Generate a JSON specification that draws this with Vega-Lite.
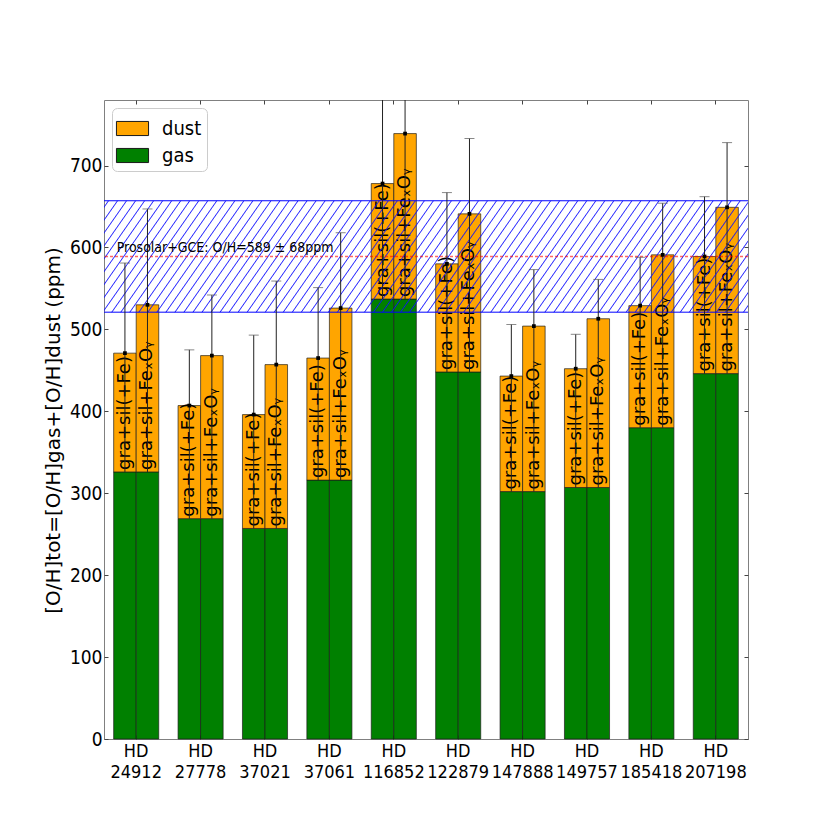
{
  "$schema": "https://vega.github.io/schema/vega-lite/v6.json",
  "width": 644,
  "height": 639,
  "autosize": {"type": "none"},
  "padding": {"left": 104, "top": 100, "right": 82, "bottom": 91},
  "background": "white",
  "config": {
    "view": {"stroke": "#808080", "strokeWidth": 1},
    "axis": {"domain": false, "grid": false, "tickColor": "#444", "labelColor": "black", "titleColor": "black"}
  },
  "datasets": {
    "bars": [
      {"star": "HD 24912", "m": "a", "label": "gra+sil(+Fe)", "gas": 326, "total": 471, "upper": 581},
      {"star": "HD 24912", "m": "b", "label": "gra+sil+FeₓOᵧ", "gas": 326, "total": 530, "upper": 647},
      {"star": "HD 27778", "m": "a", "label": "gra+sil(+Fe)", "gas": 269, "total": 407, "upper": 475},
      {"star": "HD 27778", "m": "b", "label": "gra+sil+FeₓOᵧ", "gas": 269, "total": 468, "upper": 542},
      {"star": "HD 37021", "m": "a", "label": "gra+sil(+Fe)", "gas": 257, "total": 396, "upper": 493},
      {"star": "HD 37021", "m": "b", "label": "gra+sil+FeₓOᵧ", "gas": 257, "total": 457, "upper": 559},
      {"star": "HD 37061", "m": "a", "label": "gra+sil(+Fe)", "gas": 316, "total": 465, "upper": 551},
      {"star": "HD 37061", "m": "b", "label": "gra+sil+FeₓOᵧ", "gas": 316, "total": 526, "upper": 618},
      {"star": "HD 116852", "m": "a", "label": "gra+sil(+Fe)", "gas": 537, "total": 678, "upper": 860},
      {"star": "HD 116852", "m": "b", "label": "gra+sil+FeₓOᵧ", "gas": 537, "total": 739, "upper": 920},
      {"star": "HD 122879", "m": "a", "label": "gra+sil(+Fe)", "gas": 448, "total": 580, "upper": 667},
      {"star": "HD 122879", "m": "b", "label": "gra+sil+FeₓOᵧ", "gas": 448, "total": 641, "upper": 733},
      {"star": "HD 147888", "m": "a", "label": "gra+sil(+Fe)", "gas": 302, "total": 443, "upper": 506},
      {"star": "HD 147888", "m": "b", "label": "gra+sil+FeₓOᵧ", "gas": 302, "total": 504, "upper": 573},
      {"star": "HD 149757", "m": "a", "label": "gra+sil(+Fe)", "gas": 307, "total": 452, "upper": 494},
      {"star": "HD 149757", "m": "b", "label": "gra+sil+FeₓOᵧ", "gas": 307, "total": 513, "upper": 561},
      {"star": "HD 185418", "m": "a", "label": "gra+sil(+Fe)", "gas": 380, "total": 529, "upper": 588},
      {"star": "HD 185418", "m": "b", "label": "gra+sil+FeₓOᵧ", "gas": 380, "total": 591, "upper": 654},
      {"star": "HD 207198", "m": "a", "label": "gra+sil(+Fe)", "gas": 446, "total": 589, "upper": 662},
      {"star": "HD 207198", "m": "b", "label": "gra+sil+FeₓOᵧ", "gas": 446, "total": 649, "upper": 728}
    ]
  },
  "layer": [
    {
      "data": {"name": "bars"},
      "mark": {"type": "bar", "stroke": "#1a1a1a", "strokeWidth": 0.8, "strokeOpacity": 0.85},
      "encoding": {
        "x": {
          "field": "star", "type": "nominal", "sort": null,
          "scale": {"domain": ["HD 24912", "HD 27778", "HD 37021", "HD 37061", "HD 116852", "HD 122879", "HD 147888", "HD 149757", "HD 185418", "HD 207198"], "paddingInner": 0.3, "paddingOuter": 0.15},
          "axis": {"orient": "bottom", "title": null, "labelAngle": 0, "labelExpr": "split(datum.label, ' ')", "labelFont": "DejaVu Sans Condensed", "labelFontSize": 18, "labelLineHeight": 21, "tickSize": -4, "labelPadding": 7, "labelBaseline": "top"}
        },
        "xOffset": {"field": "m", "type": "nominal", "sort": null, "scale": {"domain": ["a", "b"], "paddingInner": 0, "paddingOuter": 0}},
        "y": {
          "field": "gas", "type": "quantitative",
          "scale": {"domain": [0, 780], "nice": false, "zero": true},
          "axis": {"orient": "left", "values": [0, 100, 200, 300, 400, 500, 600, 700], "title": "[O/H]tot=[O/H]gas+[O/H]dust (ppm)", "titleFont": "DejaVu Sans", "titleFontSize": 20, "titleFontWeight": "normal", "titlePadding": 6, "titleY": 330, "labelFont": "DejaVu Sans Condensed", "labelFontSize": 19, "tickSize": -4, "labelPadding": 6}
        },
        "color": {
          "datum": "gas",
          "scale": {"domain": ["dust", "gas"], "range": ["#FFA500", "#008000"]},
          "legend": {"title": null, "orient": "top-left", "offset": 8, "symbolType": "M-1.07,-0.47H1.07V0.47H-1.07Z", "symbolSize": 900, "symbolStrokeColor": "#333", "symbolStrokeWidth": 1, "symbolOpacity": 1, "labelFont": "DejaVu Sans Condensed", "labelFontSize": 20, "labelOffset": 14, "rowPadding": 1, "padding": 5, "fillColor": "white", "strokeColor": "#cccccc", "cornerRadius": 5}
        }
      }
    },
    {
      "data": {"name": "bars"},
      "mark": {"type": "bar", "stroke": "#1a1a1a", "strokeWidth": 0.8, "strokeOpacity": 0.85},
      "encoding": {
        "x": {"field": "star", "type": "nominal", "sort": null, "scale": {"domain": ["HD 24912", "HD 27778", "HD 37021", "HD 37061", "HD 116852", "HD 122879", "HD 147888", "HD 149757", "HD 185418", "HD 207198"]}, "axis": null},
        "xOffset": {"field": "m", "type": "nominal", "sort": null, "scale": {"domain": ["a", "b"]}},
        "y": {"field": "gas", "type": "quantitative", "scale": {"domain": [0, 780], "nice": false}, "axis": null},
        "y2": {"field": "total"},
        "color": {"datum": "dust"}
      }
    },
    {
      "data": {"name": "bars"},
      "mark": {"type": "text", "angle": 270, "align": "left", "baseline": "middle", "dx": 2, "font": "DejaVu Sans", "fontSize": 18, "color": "black"},
      "encoding": {
        "x": {"field": "star", "type": "nominal", "sort": null, "scale": {"domain": ["HD 24912", "HD 27778", "HD 37021", "HD 37061", "HD 116852", "HD 122879", "HD 147888", "HD 149757", "HD 185418", "HD 207198"]}, "axis": null},
        "xOffset": {"field": "m", "type": "nominal", "sort": null, "scale": {"domain": ["a", "b"]}},
        "y": {"field": "gas", "type": "quantitative", "scale": {"domain": [0, 780], "nice": false}, "axis": null},
        "text": {"field": "label"}
      }
    },
    {
      "data": {"values": [{}]},
      "mark": {
        "type": "rect",
        "strokeWidth": 0,
        "fill": {
          "gradient": "linear", "x1": 0, "y1": 0, "x2": 1.1048, "y2": 0.1337,
          "stops": [
            {"offset":0.00475,"color":"rgba(0,0,255,0)"},{"offset":0.00625,"color":"rgba(20,20,255,0.9)"},{"offset":0.00775,"color":"rgba(0,0,255,0)"},
            {"offset":0.01725,"color":"rgba(0,0,255,0)"},{"offset":0.01875,"color":"rgba(20,20,255,0.9)"},{"offset":0.02025,"color":"rgba(0,0,255,0)"},
            {"offset":0.02975,"color":"rgba(0,0,255,0)"},{"offset":0.03125,"color":"rgba(20,20,255,0.9)"},{"offset":0.03275,"color":"rgba(0,0,255,0)"},
            {"offset":0.04225,"color":"rgba(0,0,255,0)"},{"offset":0.04375,"color":"rgba(20,20,255,0.9)"},{"offset":0.04525,"color":"rgba(0,0,255,0)"},
            {"offset":0.05475,"color":"rgba(0,0,255,0)"},{"offset":0.05625,"color":"rgba(20,20,255,0.9)"},{"offset":0.05775,"color":"rgba(0,0,255,0)"},
            {"offset":0.06725,"color":"rgba(0,0,255,0)"},{"offset":0.06875,"color":"rgba(20,20,255,0.9)"},{"offset":0.07025,"color":"rgba(0,0,255,0)"},
            {"offset":0.07975,"color":"rgba(0,0,255,0)"},{"offset":0.08125,"color":"rgba(20,20,255,0.9)"},{"offset":0.08275,"color":"rgba(0,0,255,0)"},
            {"offset":0.09225,"color":"rgba(0,0,255,0)"},{"offset":0.09375,"color":"rgba(20,20,255,0.9)"},{"offset":0.09525,"color":"rgba(0,0,255,0)"},
            {"offset":0.10475,"color":"rgba(0,0,255,0)"},{"offset":0.10625,"color":"rgba(20,20,255,0.9)"},{"offset":0.10775,"color":"rgba(0,0,255,0)"},
            {"offset":0.11725,"color":"rgba(0,0,255,0)"},{"offset":0.11875,"color":"rgba(20,20,255,0.9)"},{"offset":0.12025,"color":"rgba(0,0,255,0)"},
            {"offset":0.12975,"color":"rgba(0,0,255,0)"},{"offset":0.13125,"color":"rgba(20,20,255,0.9)"},{"offset":0.13275,"color":"rgba(0,0,255,0)"},
            {"offset":0.14225,"color":"rgba(0,0,255,0)"},{"offset":0.14375,"color":"rgba(20,20,255,0.9)"},{"offset":0.14525,"color":"rgba(0,0,255,0)"},
            {"offset":0.15475,"color":"rgba(0,0,255,0)"},{"offset":0.15625,"color":"rgba(20,20,255,0.9)"},{"offset":0.15775,"color":"rgba(0,0,255,0)"},
            {"offset":0.16725,"color":"rgba(0,0,255,0)"},{"offset":0.16875,"color":"rgba(20,20,255,0.9)"},{"offset":0.17025,"color":"rgba(0,0,255,0)"},
            {"offset":0.17975,"color":"rgba(0,0,255,0)"},{"offset":0.18125,"color":"rgba(20,20,255,0.9)"},{"offset":0.18275,"color":"rgba(0,0,255,0)"},
            {"offset":0.19225,"color":"rgba(0,0,255,0)"},{"offset":0.19375,"color":"rgba(20,20,255,0.9)"},{"offset":0.19525,"color":"rgba(0,0,255,0)"},
            {"offset":0.20475,"color":"rgba(0,0,255,0)"},{"offset":0.20625,"color":"rgba(20,20,255,0.9)"},{"offset":0.20775,"color":"rgba(0,0,255,0)"},
            {"offset":0.21725,"color":"rgba(0,0,255,0)"},{"offset":0.21875,"color":"rgba(20,20,255,0.9)"},{"offset":0.22025,"color":"rgba(0,0,255,0)"},
            {"offset":0.22975,"color":"rgba(0,0,255,0)"},{"offset":0.23125,"color":"rgba(20,20,255,0.9)"},{"offset":0.23275,"color":"rgba(0,0,255,0)"},
            {"offset":0.24225,"color":"rgba(0,0,255,0)"},{"offset":0.24375,"color":"rgba(20,20,255,0.9)"},{"offset":0.24525,"color":"rgba(0,0,255,0)"},
            {"offset":0.25475,"color":"rgba(0,0,255,0)"},{"offset":0.25625,"color":"rgba(20,20,255,0.9)"},{"offset":0.25775,"color":"rgba(0,0,255,0)"},
            {"offset":0.26725,"color":"rgba(0,0,255,0)"},{"offset":0.26875,"color":"rgba(20,20,255,0.9)"},{"offset":0.27025,"color":"rgba(0,0,255,0)"},
            {"offset":0.27975,"color":"rgba(0,0,255,0)"},{"offset":0.28125,"color":"rgba(20,20,255,0.9)"},{"offset":0.28275,"color":"rgba(0,0,255,0)"},
            {"offset":0.29225,"color":"rgba(0,0,255,0)"},{"offset":0.29375,"color":"rgba(20,20,255,0.9)"},{"offset":0.29525,"color":"rgba(0,0,255,0)"},
            {"offset":0.30475,"color":"rgba(0,0,255,0)"},{"offset":0.30625,"color":"rgba(20,20,255,0.9)"},{"offset":0.30775,"color":"rgba(0,0,255,0)"},
            {"offset":0.31725,"color":"rgba(0,0,255,0)"},{"offset":0.31875,"color":"rgba(20,20,255,0.9)"},{"offset":0.32025,"color":"rgba(0,0,255,0)"},
            {"offset":0.32975,"color":"rgba(0,0,255,0)"},{"offset":0.33125,"color":"rgba(20,20,255,0.9)"},{"offset":0.33275,"color":"rgba(0,0,255,0)"},
            {"offset":0.34225,"color":"rgba(0,0,255,0)"},{"offset":0.34375,"color":"rgba(20,20,255,0.9)"},{"offset":0.34525,"color":"rgba(0,0,255,0)"},
            {"offset":0.35475,"color":"rgba(0,0,255,0)"},{"offset":0.35625,"color":"rgba(20,20,255,0.9)"},{"offset":0.35775,"color":"rgba(0,0,255,0)"},
            {"offset":0.36725,"color":"rgba(0,0,255,0)"},{"offset":0.36875,"color":"rgba(20,20,255,0.9)"},{"offset":0.37025,"color":"rgba(0,0,255,0)"},
            {"offset":0.37975,"color":"rgba(0,0,255,0)"},{"offset":0.38125,"color":"rgba(20,20,255,0.9)"},{"offset":0.38275,"color":"rgba(0,0,255,0)"},
            {"offset":0.39225,"color":"rgba(0,0,255,0)"},{"offset":0.39375,"color":"rgba(20,20,255,0.9)"},{"offset":0.39525,"color":"rgba(0,0,255,0)"},
            {"offset":0.40475,"color":"rgba(0,0,255,0)"},{"offset":0.40625,"color":"rgba(20,20,255,0.9)"},{"offset":0.40775,"color":"rgba(0,0,255,0)"},
            {"offset":0.41725,"color":"rgba(0,0,255,0)"},{"offset":0.41875,"color":"rgba(20,20,255,0.9)"},{"offset":0.42025,"color":"rgba(0,0,255,0)"},
            {"offset":0.42975,"color":"rgba(0,0,255,0)"},{"offset":0.43125,"color":"rgba(20,20,255,0.9)"},{"offset":0.43275,"color":"rgba(0,0,255,0)"},
            {"offset":0.44225,"color":"rgba(0,0,255,0)"},{"offset":0.44375,"color":"rgba(20,20,255,0.9)"},{"offset":0.44525,"color":"rgba(0,0,255,0)"},
            {"offset":0.45475,"color":"rgba(0,0,255,0)"},{"offset":0.45625,"color":"rgba(20,20,255,0.9)"},{"offset":0.45775,"color":"rgba(0,0,255,0)"},
            {"offset":0.46725,"color":"rgba(0,0,255,0)"},{"offset":0.46875,"color":"rgba(20,20,255,0.9)"},{"offset":0.47025,"color":"rgba(0,0,255,0)"},
            {"offset":0.47975,"color":"rgba(0,0,255,0)"},{"offset":0.48125,"color":"rgba(20,20,255,0.9)"},{"offset":0.48275,"color":"rgba(0,0,255,0)"},
            {"offset":0.49225,"color":"rgba(0,0,255,0)"},{"offset":0.49375,"color":"rgba(20,20,255,0.9)"},{"offset":0.49525,"color":"rgba(0,0,255,0)"},
            {"offset":0.50475,"color":"rgba(0,0,255,0)"},{"offset":0.50625,"color":"rgba(20,20,255,0.9)"},{"offset":0.50775,"color":"rgba(0,0,255,0)"},
            {"offset":0.51725,"color":"rgba(0,0,255,0)"},{"offset":0.51875,"color":"rgba(20,20,255,0.9)"},{"offset":0.52025,"color":"rgba(0,0,255,0)"},
            {"offset":0.52975,"color":"rgba(0,0,255,0)"},{"offset":0.53125,"color":"rgba(20,20,255,0.9)"},{"offset":0.53275,"color":"rgba(0,0,255,0)"},
            {"offset":0.54225,"color":"rgba(0,0,255,0)"},{"offset":0.54375,"color":"rgba(20,20,255,0.9)"},{"offset":0.54525,"color":"rgba(0,0,255,0)"},
            {"offset":0.55475,"color":"rgba(0,0,255,0)"},{"offset":0.55625,"color":"rgba(20,20,255,0.9)"},{"offset":0.55775,"color":"rgba(0,0,255,0)"},
            {"offset":0.56725,"color":"rgba(0,0,255,0)"},{"offset":0.56875,"color":"rgba(20,20,255,0.9)"},{"offset":0.57025,"color":"rgba(0,0,255,0)"},
            {"offset":0.57975,"color":"rgba(0,0,255,0)"},{"offset":0.58125,"color":"rgba(20,20,255,0.9)"},{"offset":0.58275,"color":"rgba(0,0,255,0)"},
            {"offset":0.59225,"color":"rgba(0,0,255,0)"},{"offset":0.59375,"color":"rgba(20,20,255,0.9)"},{"offset":0.59525,"color":"rgba(0,0,255,0)"},
            {"offset":0.60475,"color":"rgba(0,0,255,0)"},{"offset":0.60625,"color":"rgba(20,20,255,0.9)"},{"offset":0.60775,"color":"rgba(0,0,255,0)"},
            {"offset":0.61725,"color":"rgba(0,0,255,0)"},{"offset":0.61875,"color":"rgba(20,20,255,0.9)"},{"offset":0.62025,"color":"rgba(0,0,255,0)"},
            {"offset":0.62975,"color":"rgba(0,0,255,0)"},{"offset":0.63125,"color":"rgba(20,20,255,0.9)"},{"offset":0.63275,"color":"rgba(0,0,255,0)"},
            {"offset":0.64225,"color":"rgba(0,0,255,0)"},{"offset":0.64375,"color":"rgba(20,20,255,0.9)"},{"offset":0.64525,"color":"rgba(0,0,255,0)"},
            {"offset":0.65475,"color":"rgba(0,0,255,0)"},{"offset":0.65625,"color":"rgba(20,20,255,0.9)"},{"offset":0.65775,"color":"rgba(0,0,255,0)"},
            {"offset":0.66725,"color":"rgba(0,0,255,0)"},{"offset":0.66875,"color":"rgba(20,20,255,0.9)"},{"offset":0.67025,"color":"rgba(0,0,255,0)"},
            {"offset":0.67975,"color":"rgba(0,0,255,0)"},{"offset":0.68125,"color":"rgba(20,20,255,0.9)"},{"offset":0.68275,"color":"rgba(0,0,255,0)"},
            {"offset":0.69225,"color":"rgba(0,0,255,0)"},{"offset":0.69375,"color":"rgba(20,20,255,0.9)"},{"offset":0.69525,"color":"rgba(0,0,255,0)"},
            {"offset":0.70475,"color":"rgba(0,0,255,0)"},{"offset":0.70625,"color":"rgba(20,20,255,0.9)"},{"offset":0.70775,"color":"rgba(0,0,255,0)"},
            {"offset":0.71725,"color":"rgba(0,0,255,0)"},{"offset":0.71875,"color":"rgba(20,20,255,0.9)"},{"offset":0.72025,"color":"rgba(0,0,255,0)"},
            {"offset":0.72975,"color":"rgba(0,0,255,0)"},{"offset":0.73125,"color":"rgba(20,20,255,0.9)"},{"offset":0.73275,"color":"rgba(0,0,255,0)"},
            {"offset":0.74225,"color":"rgba(0,0,255,0)"},{"offset":0.74375,"color":"rgba(20,20,255,0.9)"},{"offset":0.74525,"color":"rgba(0,0,255,0)"},
            {"offset":0.75475,"color":"rgba(0,0,255,0)"},{"offset":0.75625,"color":"rgba(20,20,255,0.9)"},{"offset":0.75775,"color":"rgba(0,0,255,0)"},
            {"offset":0.76725,"color":"rgba(0,0,255,0)"},{"offset":0.76875,"color":"rgba(20,20,255,0.9)"},{"offset":0.77025,"color":"rgba(0,0,255,0)"},
            {"offset":0.77975,"color":"rgba(0,0,255,0)"},{"offset":0.78125,"color":"rgba(20,20,255,0.9)"},{"offset":0.78275,"color":"rgba(0,0,255,0)"},
            {"offset":0.79225,"color":"rgba(0,0,255,0)"},{"offset":0.79375,"color":"rgba(20,20,255,0.9)"},{"offset":0.79525,"color":"rgba(0,0,255,0)"},
            {"offset":0.80475,"color":"rgba(0,0,255,0)"},{"offset":0.80625,"color":"rgba(20,20,255,0.9)"},{"offset":0.80775,"color":"rgba(0,0,255,0)"},
            {"offset":0.81725,"color":"rgba(0,0,255,0)"},{"offset":0.81875,"color":"rgba(20,20,255,0.9)"},{"offset":0.82025,"color":"rgba(0,0,255,0)"},
            {"offset":0.82975,"color":"rgba(0,0,255,0)"},{"offset":0.83125,"color":"rgba(20,20,255,0.9)"},{"offset":0.83275,"color":"rgba(0,0,255,0)"},
            {"offset":0.84225,"color":"rgba(0,0,255,0)"},{"offset":0.84375,"color":"rgba(20,20,255,0.9)"},{"offset":0.84525,"color":"rgba(0,0,255,0)"},
            {"offset":0.85475,"color":"rgba(0,0,255,0)"},{"offset":0.85625,"color":"rgba(20,20,255,0.9)"},{"offset":0.85775,"color":"rgba(0,0,255,0)"},
            {"offset":0.86725,"color":"rgba(0,0,255,0)"},{"offset":0.86875,"color":"rgba(20,20,255,0.9)"},{"offset":0.87025,"color":"rgba(0,0,255,0)"},
            {"offset":0.87975,"color":"rgba(0,0,255,0)"},{"offset":0.88125,"color":"rgba(20,20,255,0.9)"},{"offset":0.88275,"color":"rgba(0,0,255,0)"},
            {"offset":0.89225,"color":"rgba(0,0,255,0)"},{"offset":0.89375,"color":"rgba(20,20,255,0.9)"},{"offset":0.89525,"color":"rgba(0,0,255,0)"},
            {"offset":0.90475,"color":"rgba(0,0,255,0)"},{"offset":0.90625,"color":"rgba(20,20,255,0.9)"},{"offset":0.90775,"color":"rgba(0,0,255,0)"},
            {"offset":0.91725,"color":"rgba(0,0,255,0)"},{"offset":0.91875,"color":"rgba(20,20,255,0.9)"},{"offset":0.92025,"color":"rgba(0,0,255,0)"},
            {"offset":0.92975,"color":"rgba(0,0,255,0)"},{"offset":0.93125,"color":"rgba(20,20,255,0.9)"},{"offset":0.93275,"color":"rgba(0,0,255,0)"},
            {"offset":0.94225,"color":"rgba(0,0,255,0)"},{"offset":0.94375,"color":"rgba(20,20,255,0.9)"},{"offset":0.94525,"color":"rgba(0,0,255,0)"},
            {"offset":0.95475,"color":"rgba(0,0,255,0)"},{"offset":0.95625,"color":"rgba(20,20,255,0.9)"},{"offset":0.95775,"color":"rgba(0,0,255,0)"},
            {"offset":0.96725,"color":"rgba(0,0,255,0)"},{"offset":0.96875,"color":"rgba(20,20,255,0.9)"},{"offset":0.97025,"color":"rgba(0,0,255,0)"},
            {"offset":0.97975,"color":"rgba(0,0,255,0)"},{"offset":0.98125,"color":"rgba(20,20,255,0.9)"},{"offset":0.98275,"color":"rgba(0,0,255,0)"},
            {"offset":0.99225,"color":"rgba(0,0,255,0)"},{"offset":0.99375,"color":"rgba(20,20,255,0.9)"},{"offset":0.99525,"color":"rgba(0,0,255,0)"}
          ]
        }
      },
      "encoding": {
        "y": {"datum": 521, "type": "quantitative", "scale": {"domain": [0, 780], "nice": false}, "axis": null},
        "y2": {"datum": 657}
      }
    },
    {
      "data": {"values": [{"v": 521}, {"v": 657}]},
      "mark": {"type": "rule", "color": "#0000ff", "strokeWidth": 1},
      "encoding": {
        "y": {"field": "v", "type": "quantitative", "scale": {"domain": [0, 780], "nice": false}, "axis": null}
      }
    },
    {
      "data": {"values": [{"v": 589}]},
      "mark": {"type": "rule", "color": "#ff0000", "opacity": 0.6, "strokeWidth": 1.5, "strokeDash": [3, 2]},
      "encoding": {
        "y": {"field": "v", "type": "quantitative", "scale": {"domain": [0, 780], "nice": false}, "axis": null}
      }
    },
    {
      "data": {"name": "bars"},
      "mark": {"type": "rule", "color": "#222222", "strokeWidth": 1, "clip": true},
      "encoding": {
        "x": {
          "field": "star", "type": "nominal", "sort": null,
          "scale": {"domain": ["HD 24912", "HD 27778", "HD 37021", "HD 37061", "HD 116852", "HD 122879", "HD 147888", "HD 149757", "HD 185418", "HD 207198"]},
          "axis": {"orient": "top", "title": null, "labels": false, "tickSize": -4}
        },
        "xOffset": {"field": "m", "type": "nominal", "sort": null, "scale": {"domain": ["a", "b"]}},
        "y": {
          "field": "gas", "type": "quantitative",
          "scale": {"domain": [0, 780], "nice": false},
          "axis": {"orient": "right", "title": null, "labels": false, "values": [0, 100, 200, 300, 400, 500, 600, 700], "tickSize": -4}
        },
        "y2": {"field": "upper"}
      }
    },
    {
      "data": {"name": "bars"},
      "mark": {"type": "tick", "color": "#555555", "thickness": 1, "size": 10, "orient": "horizontal", "clip": true},
      "encoding": {
        "x": {"field": "star", "type": "nominal", "sort": null, "scale": {"domain": ["HD 24912", "HD 27778", "HD 37021", "HD 37061", "HD 116852", "HD 122879", "HD 147888", "HD 149757", "HD 185418", "HD 207198"]}, "axis": null},
        "xOffset": {"field": "m", "type": "nominal", "sort": null, "scale": {"domain": ["a", "b"]}},
        "y": {"field": "upper", "type": "quantitative", "scale": {"domain": [0, 780], "nice": false}, "axis": null}
      }
    },
    {
      "data": {"name": "bars"},
      "mark": {"type": "point", "shape": "square", "filled": true, "size": 14, "color": "black", "opacity": 1},
      "encoding": {
        "x": {"field": "star", "type": "nominal", "sort": null, "scale": {"domain": ["HD 24912", "HD 27778", "HD 37021", "HD 37061", "HD 116852", "HD 122879", "HD 147888", "HD 149757", "HD 185418", "HD 207198"]}, "axis": null},
        "xOffset": {"field": "m", "type": "nominal", "sort": null, "scale": {"domain": ["a", "b"]}},
        "y": {"field": "total", "type": "quantitative", "scale": {"domain": [0, 780], "nice": false}, "axis": null}
      }
    },
    {
      "data": {"values": [{"star": "HD 24912", "y": 594, "t": "Prosolar+GCE: O/H=589 ± 68ppm"}]},
      "mark": {"type": "text", "align": "left", "baseline": "alphabetic", "dx": 3, "font": "DejaVu Sans Condensed", "fontSize": 14, "color": "black"},
      "encoding": {
        "x": {
          "field": "star", "type": "nominal", "sort": null, "bandPosition": 0,
          "scale": {"domain": ["HD 24912", "HD 27778", "HD 37021", "HD 37061", "HD 116852", "HD 122879", "HD 147888", "HD 149757", "HD 185418", "HD 207198"]},
          "axis": null
        },
        "y": {"field": "y", "type": "quantitative", "scale": {"domain": [0, 780], "nice": false}, "axis": null},
        "text": {"field": "t"}
      }
    }
  ]
}
